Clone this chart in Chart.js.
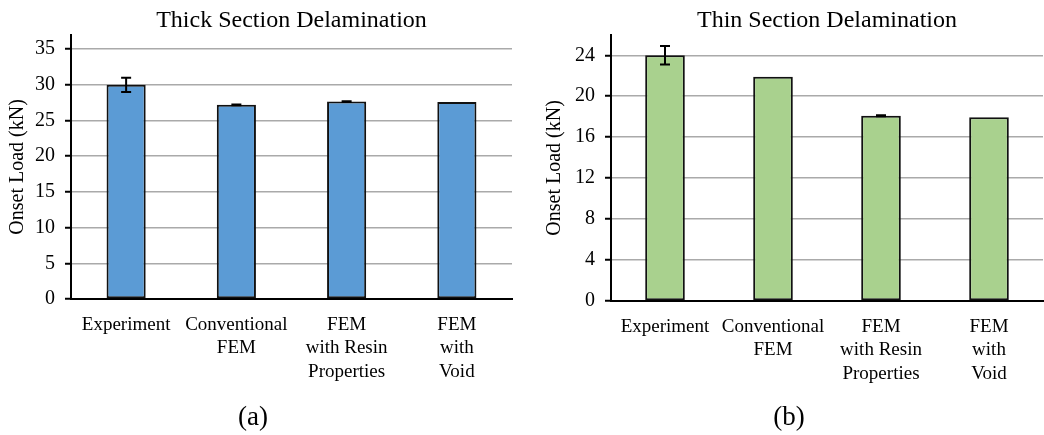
<!DOCTYPE html>
<html>
<head>
<meta charset="utf-8">
<script src="https://cdn.jsdelivr.net/npm/chart.js@4/dist/chart.umd.min.js"></script>
<style>
  html, body { margin: 0; padding: 0; background: #fff; }
  body { width: 1044px; height: 435px; position: relative; overflow: hidden; }
  .panel { position: absolute; top: 0; height: 435px; }
  .tag { position: absolute; font-family: "Liberation Serif", "Times New Roman", serif;
         font-size: 27px; color: #000; transform: translate(-50%, -50%); white-space: nowrap; }
</style>
</head>
<body>
<div class="panel" style="left:0;width:525px;"><canvas id="thick"></canvas></div>
<div class="panel" style="left:530px;width:514px;"><canvas id="thin"></canvas></div>
<div class="tag" style="left:253px;top:416px;">(a)</div>
<div class="tag" style="left:789px;top:416px;">(b)</div>
<script>
// Model / test categories (multi-line labels)
const categories = [
  ["Experiment"],
  ["Conventional", "FEM"],
  ["FEM", "with Resin", "Properties"],
  ["FEM", "with", "Void"]
];

// Delamination onset load (kN) and scatter (+/- kN)
const thickLoad  = [30.0, 27.2, 27.65, 27.6];
const thickError = [1.0, 0.05, 0.05, 0];
const thinLoad   = [24.0, 21.9, 18.1, 17.95];
const thinError  = [0.9, 0, 0.05, 0];

// Y-axis tick values
const thickTicks = [0, 5, 10, 15, 20, 25, 30, 35];
const thinTicks  = [0, 4, 8, 12, 16, 20, 24];

const FONT = "'Liberation Serif', 'Times New Roman', serif";

// Draws symmetric error bars on top of each bar using the value scale
const errorBarPlugin = {
  id: 'errorBars',
  afterDatasetsDraw(chart) {
    const ctx = chart.ctx;
    const yScale = chart.scales.y;
    chart.data.datasets.forEach((ds, di) => {
      const errs = ds.errors || [];
      chart.getDatasetMeta(di).data.forEach((bar, i) => {
        const e = errs[i];
        if (!e) return;
        const v = ds.data[i];
        const yHi = yScale.getPixelForValue(v + e);
        const yLo = yScale.getPixelForValue(v - e);
        const x = bar.x;
        const cap = 5;
        ctx.save();
        ctx.strokeStyle = '#000';
        ctx.lineWidth = 2;
        ctx.beginPath();
        ctx.moveTo(x, yHi); ctx.lineTo(x, yLo);
        ctx.moveTo(x - cap, yHi); ctx.lineTo(x + cap, yHi);
        ctx.moveTo(x - cap, yLo); ctx.lineTo(x + cap, yLo);
        ctx.stroke();
        ctx.restore();
      });
    });
  }
};

function makeChart(id, opts) {
  return new Chart(document.getElementById(id), {
    type: 'bar',
    data: {
      labels: categories,
      datasets: [{
        data: opts.values,
        errors: opts.errors,
        backgroundColor: opts.fill,
        borderColor: '#111',
        borderWidth: 2,
        borderSkipped: false,
        barPercentage: opts.barPct,
        categoryPercentage: 1.0
      }]
    },
    options: {
      responsive: true,
      maintainAspectRatio: false,
      animation: false,
      layout: { padding: { left: 0, right: opts.padRight, top: 0, bottom: 0 } },
      plugins: {
        legend: { display: false },
        tooltip: { enabled: false },
        title: {
          display: true,
          text: opts.title,
          fullSize: false,
          color: '#000',
          font: { family: FONT, size: 24, weight: 'normal' },
          padding: { top: 6, bottom: 0 }
        }
      },
      scales: {
        x: {
          grid: { display: false, drawTicks: false },
          border: { display: true, color: '#000', width: 2 },
          ticks: {
            color: '#000',
            font: { family: FONT, size: 19, lineHeight: 1.24 },
            padding: 14,
            maxRotation: 0,
            autoSkip: false
          },
          afterFit(s) { s.height = opts.xHeight; }
        },
        y: {
          min: 0,
          max: opts.max,
          ticks: {
            color: '#000',
            padding: 10,
            font: { family: FONT, size: 20 }
          },
          afterBuildTicks(s) {
            s.ticks = opts.ticks.map(v => ({ value: v }));
          },
          grid: {
            color: '#aaaaaa',
            lineWidth: 1.5,
            drawTicks: true,
            tickLength: 6,
            tickColor: '#000',
            tickWidth: 2
          },
          border: { display: true, color: '#000', width: 2 },
          title: {
            display: true,
            text: 'Onset Load (kN)',
            color: '#000',
            font: { family: FONT, size: 20 },
            padding: { top: opts.yTitlePad, bottom: 0 }
          },
          afterFit(s) { s.width = opts.yWidth; }
        }
      }
    },
    plugins: [errorBarPlugin]
  });
}

makeChart('thick', {
  title: 'Thick Section Delamination',
  values: thickLoad, errors: thickError,
  fill: '#5b9bd5', max: 37, ticks: thickTicks,
  barPct: 0.355, yWidth: 71, padRight: 13, xHeight: 136, yTitlePad: 6
});

makeChart('thin', {
  title: 'Thin Section Delamination',
  values: thinLoad, errors: thinError,
  fill: '#a9d18e', max: 26, ticks: thinTicks,
  barPct: 0.367, yWidth: 81, padRight: 1, xHeight: 134, yTitlePad: 13
});
</script>
</body>
</html>
